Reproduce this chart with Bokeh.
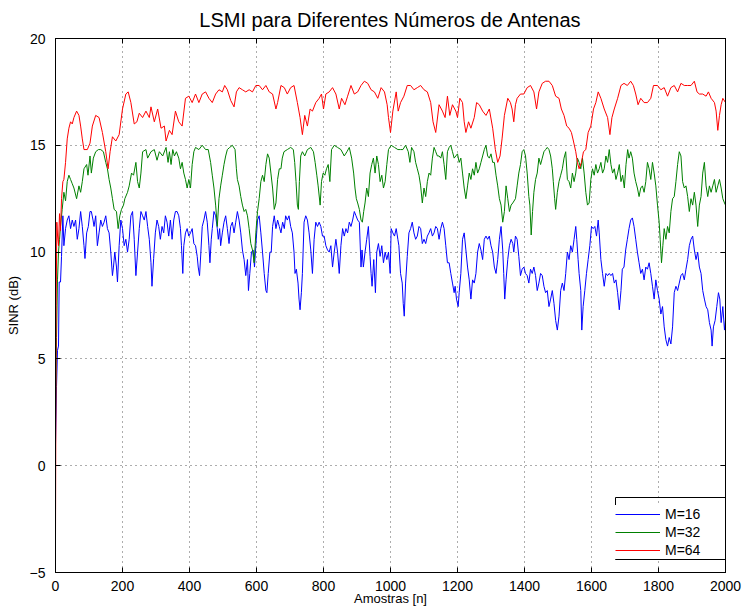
from bokeh.plotting import figure
from bokeh.models import Range1d, SingleIntervalTicker, LinearAxis, Legend, LegendItem, BoxAnnotation
from bokeh.embed import file_html
from bokeh.resources import INLINE

# ---------------- data ----------------
# M = 64 (red)
m64_n = [0, 2, 4, 6, 9, 12, 15, 18, 22, 25,
         30, 35, 40, 45, 50, 55, 63, 70, 75, 80,
         85, 95, 103, 110, 120, 130, 140, 150, 157, 163,
         170, 180, 190, 200, 210, 217, 225, 235, 243, 250,
         260, 270, 280, 285, 295, 305, 315, 325, 330, 340,
         348, 358, 368, 378, 388, 398, 408, 418, 428, 438,
         448, 458, 468, 478, 488, 498, 505, 513, 523, 533,
         540, 548, 558, 568, 578, 588, 598, 608, 618, 628,
         638, 648, 658, 663, 673, 683, 692, 702, 712, 722,
         730, 737, 744, 752, 760, 767, 777, 787, 794, 800,
         807, 817, 827, 837, 847, 854, 864, 872, 882, 892,
         902, 912, 922, 932, 942, 952, 962, 972, 982, 990,
         994, 1000, 1007, 1017, 1023, 1030, 1040, 1050, 1060, 1070,
         1080, 1090, 1100, 1110, 1120, 1127, 1135, 1145, 1155, 1163,
         1170, 1177, 1185, 1195, 1200, 1207, 1215, 1220, 1225, 1233,
         1240, 1250, 1257, 1265, 1275, 1285, 1295, 1305, 1313, 1320,
         1327, 1333, 1340, 1350, 1358, 1363, 1368, 1373, 1378, 1388,
         1398, 1408, 1418, 1428, 1436, 1443, 1453, 1463, 1473, 1483,
         1493, 1503, 1510, 1518, 1526, 1533, 1540, 1546, 1553, 1558,
         1563, 1570, 1576, 1583, 1590, 1598, 1606, 1613, 1620, 1628,
         1638, 1648, 1655, 1661, 1668, 1678, 1688, 1697, 1707, 1717,
         1725, 1732, 1739, 1747, 1757, 1767, 1777, 1785, 1797, 1807,
         1817, 1827, 1837, 1847, 1857, 1867, 1877, 1887, 1897, 1907,
         1915, 1922, 1932, 1942, 1949, 1957, 1967, 1972, 1977, 1982,
         1987, 1992, 2000]
m64_db = [-3.4, 7.5, 11.4, 10.8, 10.3, 11.8, 11.0, 12.5, 13.3, 13.4,
          14.2, 15.3, 15.8, 16.1, 16.0, 16.3, 16.6, 16.4, 15.9, 15.3,
          14.8, 14.8, 15.1, 15.9, 16.4, 16.3, 15.6, 14.7, 13.9, 14.7,
          15.4, 15.2, 15.5, 16.7, 17.4, 17.5, 17.0, 16.0, 16.1, 16.5,
          16.3, 16.6, 16.3, 16.8, 16.1, 16.7, 15.8, 15.9, 15.2, 15.7,
          15.5, 16.6, 16.1, 15.9, 17.2, 17.3, 17.0, 17.4, 17.0, 17.4,
          17.5, 17.2, 17.0, 17.4, 17.6, 17.5, 17.8, 17.6, 17.1, 16.8,
          17.5, 17.7, 17.6, 17.5, 17.6, 17.5, 17.8, 17.8, 17.6, 17.8,
          17.5, 17.4, 16.7, 17.0, 17.8, 17.7, 17.4, 17.7, 17.8, 17.0,
          16.3, 15.5, 16.4, 15.9, 16.7, 16.6, 17.0, 17.2, 17.4, 16.7,
          17.4, 17.5, 17.7, 17.4, 16.7, 17.2, 16.9, 17.3, 17.8, 17.4,
          17.5, 17.8, 18.0, 17.9, 17.6, 17.5, 17.2, 17.7, 17.5, 16.9,
          16.3, 15.6, 16.6, 17.5, 16.6, 17.0, 17.3, 17.8, 17.8, 17.6,
          17.7, 17.8, 17.6, 17.5, 17.0, 16.1, 15.6, 16.9, 16.6, 16.3,
          17.3, 16.4, 16.9, 16.6, 16.3, 17.2, 17.0, 16.1, 15.6, 16.1,
          15.8, 16.3, 17.0, 16.9, 16.6, 16.4, 16.7, 15.8, 14.8, 14.2,
          14.5, 15.3, 16.4, 17.2, 17.0, 16.7, 16.1, 16.9, 17.2, 17.4,
          17.4, 17.7, 17.8, 17.5, 16.7, 17.5, 17.9, 18.0, 18.0, 17.8,
          17.3, 17.2, 16.7, 16.4, 15.9, 15.8, 15.6, 15.2, 14.7, 14.2,
          13.9, 14.2, 14.7, 14.8, 15.6, 15.9, 16.7, 17.0, 17.5, 17.2,
          16.7, 16.3, 15.5, 16.3, 16.7, 17.2, 17.8, 17.9, 17.8, 18.0,
          17.8, 17.4, 16.9, 17.2, 17.0, 17.0, 17.2, 17.8, 17.8, 17.6,
          17.7, 17.3, 17.7, 17.8, 17.5, 17.9, 17.8, 17.8, 17.8, 18.0,
          17.5, 17.4, 17.4, 17.3, 17.5, 17.2, 17.0, 16.6, 15.7, 16.4,
          16.9, 17.2, 17.0]

# M = 32 (green)
m32_n = [0, 3, 6, 9, 12, 15, 20, 25, 30, 35,
         40, 45, 50, 55, 63, 70, 75, 80, 85, 93,
         97, 103, 107, 113, 120, 128, 135, 143, 150, 155,
         160, 165, 170, 175, 182, 187, 192, 197, 203, 207,
         215, 220, 227, 233, 240, 245, 250, 255, 260, 270,
         275, 285, 295, 303, 310, 320, 330, 336, 340, 345,
         350, 355, 361, 368, 373, 378, 383, 388, 393, 398,
         403, 408, 413, 418, 428, 438, 448, 456, 463, 468,
         473, 478, 483, 488, 493, 498, 503, 508, 513, 520,
         528, 536, 540, 543, 548, 553, 558, 563, 568, 573,
         578, 583, 588, 593, 598, 603, 608, 613, 618, 623,
         628, 633, 638, 643, 648, 653, 658, 663, 668, 673,
         677, 682, 692, 702, 710, 714, 718, 722, 725, 728,
         732, 737, 744, 752, 762, 770, 775, 780, 784, 790,
         794, 799, 804, 809, 814, 819, 824, 832, 842, 852,
         862, 870, 877, 884, 890, 894, 898, 902, 907, 912,
         916, 920, 924, 929, 934, 939, 944, 949, 954, 959,
         964, 969, 974, 979, 984, 989, 994, 1002, 1012, 1022,
         1030, 1037, 1045, 1053, 1058, 1063, 1070, 1075, 1080, 1085,
         1090, 1095, 1100, 1105, 1110, 1115, 1120, 1125, 1130, 1135,
         1140, 1145, 1150, 1155, 1160, 1165, 1170, 1175, 1180, 1185,
         1190, 1195, 1200, 1205, 1210, 1215, 1220, 1225, 1230, 1235,
         1240, 1245, 1250, 1255, 1260, 1265, 1270, 1275, 1280, 1285,
         1290, 1295, 1300, 1305, 1310, 1315, 1320, 1325, 1330, 1335,
         1340, 1345, 1350, 1355, 1360, 1365, 1373, 1378, 1383, 1388,
         1393, 1398, 1403, 1408, 1413, 1416, 1420, 1424, 1428, 1433,
         1438, 1443, 1448, 1453, 1458, 1463, 1468, 1473, 1478, 1483,
         1486, 1490, 1493, 1498, 1503, 1508, 1513, 1518, 1523, 1528,
         1533, 1538, 1543, 1548, 1553, 1558, 1563, 1568, 1573, 1578,
         1583, 1588, 1593, 1598, 1603, 1608, 1613, 1618, 1623, 1628,
         1633, 1638, 1643, 1648, 1653, 1658, 1663, 1668, 1673, 1678,
         1683, 1688, 1693, 1698, 1703, 1708, 1712, 1717, 1722, 1727,
         1732, 1737, 1742, 1747, 1752, 1757, 1762, 1767, 1772, 1777,
         1782, 1787, 1792, 1797, 1802, 1805, 1809, 1813, 1817, 1822,
         1827, 1832, 1837, 1842, 1847, 1852, 1857, 1862, 1867, 1872,
         1877, 1882, 1887, 1892, 1897, 1902, 1907, 1912, 1917, 1922,
         1927, 1932, 1937, 1942, 1947, 1952, 1957, 1962, 1967, 1972,
         1977, 1982, 1987, 1992, 1997, 2000]
m32_db = [2.0, 6.0, 8.7, 10.0, 10.6, 11.2, 12.0, 12.8, 12.4, 13.3,
          13.6, 13.4, 13.2, 13.0, 12.5, 13.1, 12.8, 13.3, 13.9, 14.1,
          13.6, 14.5, 13.7, 14.4, 14.7, 14.8, 14.8, 14.7, 14.2, 13.9,
          13.4, 13.0, 12.5, 12.0, 11.9, 11.1, 11.7, 12.0, 12.2, 12.5,
          12.8, 13.1, 13.7, 13.6, 14.2, 13.3, 13.0, 13.7, 14.7, 14.8,
          14.4, 14.7, 14.8, 14.3, 14.7, 14.5, 14.9, 14.2, 14.7, 14.1,
          14.8, 14.5, 14.7, 14.4, 13.9, 14.2, 13.7, 13.4, 13.0, 13.4,
          13.0, 14.1, 14.7, 14.9, 14.8, 15.0, 14.8, 14.8, 14.2, 13.6,
          13.0, 12.2, 11.2, 12.5, 13.1, 13.6, 14.1, 14.5, 14.8, 14.9,
          15.0, 14.8, 13.9, 13.4, 13.1, 12.6, 12.2, 11.9, 12.0, 11.7,
          11.1, 10.4, 10.1, 9.5, 10.9, 11.9, 12.5, 13.3, 13.6, 13.3,
          14.1, 14.6, 14.4, 13.7, 13.0, 12.0, 12.3, 13.4, 13.9, 13.9,
          14.4, 14.7, 14.8, 14.9, 14.8, 14.2, 13.3, 12.2, 12.0, 13.3,
          14.5, 14.7, 14.5, 14.8, 14.9, 14.7, 14.2, 13.6, 13.1, 12.2,
          13.3, 13.7, 13.6, 13.9, 14.1, 13.3, 14.8, 15.0, 14.9, 14.8,
          14.5, 14.7, 14.9, 14.4, 13.7, 13.0, 12.5, 12.3, 12.0, 11.5,
          11.4, 11.9, 12.3, 13.0, 12.6, 13.7, 14.1, 14.4, 13.7, 14.5,
          14.1, 13.3, 13.6, 13.0, 13.3, 14.1, 14.8, 15.0, 14.9, 14.8,
          14.8, 14.8, 15.0, 14.7, 14.2, 14.9, 14.7, 14.2, 13.9, 13.6,
          13.1, 12.3, 13.0, 12.6, 13.3, 13.7, 13.6, 14.4, 14.9, 14.7,
          14.5, 14.5, 14.4, 14.7, 14.1, 13.4, 14.7, 14.9, 15.0, 14.7,
          14.4, 14.5, 14.6, 14.2, 14.4, 13.7, 13.0, 12.5, 13.1, 13.7,
          13.4, 13.9, 13.6, 14.2, 13.7, 13.9, 14.2, 14.5, 14.8, 15.0,
          14.5, 14.4, 14.6, 14.2, 14.2, 13.6, 13.1, 12.5, 12.2, 11.4,
          11.9, 13.1, 12.5, 11.9, 12.2, 12.3, 12.5, 13.1, 13.7, 14.1,
          14.7, 14.8, 14.5, 13.7, 12.6, 12.2, 10.8, 11.9, 12.8, 13.4,
          13.7, 14.4, 14.1, 14.4, 14.7, 14.8, 14.9, 14.8, 14.5, 13.9,
          13.3, 12.5, 12.0, 12.8, 13.3, 13.6, 13.9, 14.4, 14.7, 13.4,
          13.3, 13.0, 13.7, 13.3, 13.7, 14.4, 14.2, 13.9, 14.4, 13.7,
          12.8, 12.2, 12.3, 13.4, 13.9, 13.6, 14.1, 13.7, 13.9, 14.2,
          13.7, 13.9, 14.5, 14.2, 14.8, 14.1, 13.7, 13.9, 13.4, 13.7,
          14.1, 13.3, 13.6, 13.0, 14.1, 14.8, 14.4, 14.7, 14.4, 13.7,
          13.3, 13.0, 12.6, 13.0, 13.1, 12.8, 13.3, 14.2, 13.9, 13.4,
          14.2, 13.7, 13.1, 12.2, 11.4, 10.6, 9.5, 10.3, 11.1, 10.6,
          11.2, 10.9, 11.9, 12.5, 12.6, 13.3, 14.1, 14.7, 14.5, 13.3,
          13.0, 13.1, 12.6, 11.9, 12.5, 12.2, 12.8, 12.2, 11.2, 12.2,
          12.6, 13.7, 14.2, 13.1, 12.6, 13.1, 12.8, 13.1, 13.4, 12.8,
          13.1, 13.4, 13.0, 12.5, 12.3, 12.2]

# M = 16 (blue)
m16_n = [0, 3, 6, 9, 11, 15, 18, 22, 25, 30,
         35, 40, 45, 50, 55, 60, 65, 70, 75, 80,
         85, 88, 93, 98, 103, 107, 112, 115, 120, 125,
         130, 135, 140, 145, 150, 155, 160, 165, 170, 173,
         177, 182, 185, 190, 195, 200, 205, 210, 215, 220,
         225, 230, 235, 240, 245, 250, 255, 260, 265, 270,
         275, 280, 285, 288, 293, 298, 303, 308, 313, 318,
         323, 328, 333, 338, 343, 348, 353, 358, 363, 368,
         373, 376, 380, 383, 388, 393, 398, 403, 408, 413,
         418, 423, 426, 430, 434, 438, 443, 448, 453, 458,
         461, 465, 468, 473, 478, 483, 486, 490, 493, 498,
         503, 508, 513, 518, 523, 528, 533, 538, 543, 548,
         553, 558, 563, 568, 573, 576, 580, 585, 590, 594,
         598, 603, 608, 613, 618, 623, 628, 631, 635, 640,
         644, 648, 653, 658, 663, 668, 673, 678, 683, 687,
         692, 697, 702, 707, 712, 715, 719, 724, 727, 730,
         734, 737, 742, 747, 752, 757, 762, 767, 772, 777,
         782, 787, 792, 797, 802, 807, 812, 817, 822, 827,
         832, 837, 842, 847, 852, 857, 862, 867, 872, 877,
         882, 887, 892, 897, 902, 907, 912, 915, 919, 924,
         929, 934, 939, 942, 945, 950, 955, 959, 964, 969,
         974, 979, 984, 989, 994, 999, 1002, 1007, 1012, 1017,
         1022, 1025, 1030, 1035, 1038, 1041, 1045, 1050, 1055, 1060,
         1065, 1070, 1075, 1080, 1085, 1090, 1095, 1100, 1105, 1110,
         1115, 1120, 1125, 1130, 1135, 1140, 1145, 1150, 1155, 1160,
         1165, 1170, 1175, 1180, 1185, 1190, 1193, 1197, 1202, 1205,
         1210, 1215, 1220, 1225, 1230, 1235, 1240, 1245, 1250, 1255,
         1260, 1265, 1270, 1275, 1280, 1285, 1290, 1295, 1300, 1305,
         1310, 1315, 1320, 1325, 1330, 1335, 1338, 1341, 1345, 1350,
         1355, 1360, 1365, 1368, 1373, 1378, 1383, 1388, 1393, 1398,
         1403, 1408, 1413, 1418, 1423, 1428, 1433, 1438, 1443, 1448,
         1453, 1458, 1463, 1468, 1473, 1478, 1483, 1488, 1493, 1498,
         1503, 1508, 1513, 1518, 1523, 1528, 1533, 1538, 1543, 1548,
         1553, 1556, 1560, 1563, 1568, 1571, 1575, 1580, 1585, 1590,
         1595, 1600, 1605, 1610, 1615, 1620, 1623, 1628, 1633, 1638,
         1643, 1648, 1653, 1658, 1663, 1668, 1673, 1678, 1683, 1688,
         1692, 1697, 1702, 1707, 1712, 1717, 1722, 1727, 1732, 1737,
         1742, 1747, 1752, 1757, 1762, 1767, 1772, 1777, 1782, 1787,
         1792, 1797, 1802, 1807, 1812, 1817, 1822, 1827, 1832, 1837,
         1842, 1847, 1852, 1857, 1862, 1867, 1872, 1877, 1882, 1887,
         1892, 1897, 1902, 1907, 1912, 1917, 1922, 1927, 1932, 1937,
         1942, 1947, 1952, 1957, 1960, 1964, 1969, 1974, 1979, 1983,
         1987, 1992, 1997, 2000]
m16_db = [1.0, 3.7, 5.4, 5.6, 8.6, 8.6, 9.8, 11.7, 10.3, 11.1,
          11.5, 11.7, 11.1, 11.5, 11.2, 11.5, 10.6, 11.1, 11.9, 11.2,
          10.3, 9.7, 10.9, 11.2, 11.9, 11.9, 11.5, 11.2, 11.7, 10.3,
          10.9, 11.5, 11.2, 11.4, 11.7, 11.1, 10.9, 10.0, 8.9, 9.3,
          10.0, 9.3, 8.6, 10.3, 11.5, 11.1, 10.3, 10.6, 10.0, 10.6,
          11.7, 11.9, 10.6, 8.9, 10.0, 11.1, 11.9, 11.7, 11.5, 11.9,
          11.2, 10.6, 9.5, 8.4, 9.7, 10.9, 11.5, 11.2, 10.6, 11.2,
          10.9, 11.7, 11.4, 10.75, 11.5, 10.6, 11.5, 11.9, 11.9, 11.7,
          11.1, 10.3, 9.0, 10.3, 10.9, 11.1, 10.75, 10.9, 11.1, 10.4,
          10.3, 9.8, 9.3, 8.9, 10.0, 11.2, 11.5, 11.9, 11.4, 10.3,
          9.5, 10.6, 11.1, 11.9, 11.7, 11.1, 10.6, 11.1, 10.3, 10.9,
          11.4, 11.7, 11.1, 10.4, 11.2, 11.4, 10.9, 11.4, 11.9, 11.5,
          10.9, 10.1, 9.65, 8.9, 9.65, 8.2, 9.0, 10.0, 10.1, 9.3,
          10.3, 11.5, 11.7, 10.9, 10.0, 9.0, 8.2, 8.1, 9.0, 10.0,
          10.0, 11.2, 11.7, 11.1, 11.5, 11.2, 10.9, 11.4, 11.1, 11.7,
          11.5, 11.7, 11.2, 10.9, 10.0, 9.0, 9.2, 8.55, 7.8, 7.3,
          8.1, 9.0, 11.4, 11.7, 11.5, 10.9, 10.1, 9.0, 10.6, 11.4,
          11.2, 11.4, 11.2, 10.75, 10.75, 10.3, 10.1, 10.0, 10.3, 9.3,
          10.0, 10.6, 10.0, 9.0, 10.3, 11.1, 10.75, 11.1, 10.9, 11.4,
          11.2, 11.5, 11.9, 11.7, 11.5, 11.4, 9.3, 10.1, 9.3, 10.0,
          10.6, 11.2, 9.8, 9.0, 8.4, 9.65, 8.1, 10.0, 10.4, 9.8,
          10.3, 9.5, 10.0, 9.65, 10.0, 9.0, 11.1, 10.9, 10.75, 11.1,
          10.6, 10.3, 9.0, 8.55, 7.6, 7.0, 8.55, 9.8, 10.9, 11.1,
          11.4, 10.9, 10.6, 10.75, 11.2, 11.1, 10.4, 10.6, 10.4, 10.75,
          10.9, 11.1, 10.75, 10.9, 11.2, 11.1, 10.6, 11.1, 11.4, 11.1,
          10.3, 9.5, 9.5, 9.0, 8.55, 8.1, 8.4, 7.8, 7.45, 8.1,
          9.0, 10.6, 10.9, 10.1, 9.3, 8.7, 7.8, 8.7, 8.55, 9.0,
          10.0, 10.4, 10.1, 9.65, 10.6, 10.75, 10.6, 10.75, 10.3, 10.0,
          9.3, 9.0, 9.65, 10.6, 11.2, 10.1, 9.0, 7.8, 8.7, 9.65,
          10.3, 10.6, 10.4, 10.0, 10.75, 10.6, 9.8, 8.9, 9.2, 9.3,
          9.0, 8.9, 8.55, 9.2, 9.0, 9.3, 8.9, 8.2, 8.55, 9.0,
          8.9, 8.4, 8.1, 8.2, 7.45, 7.8, 8.2, 7.6, 6.8, 6.35,
          7.0, 8.2, 8.55, 8.2, 9.0, 10.0, 9.65, 10.3, 10.0, 10.6,
          11.2, 10.6, 9.65, 9.0, 8.2, 6.35, 7.45, 8.2, 9.0, 9.65,
          10.3, 11.2, 11.1, 11.2, 10.75, 11.5, 10.9, 9.65, 9.0, 8.4,
          9.0, 8.9, 9.0, 8.9, 9.0, 8.55, 8.7, 8.1, 7.3, 8.2,
          9.2, 9.3, 10.1, 10.6, 11.1, 11.5, 11.6, 11.2, 10.6, 10.0,
          9.5, 9.0, 9.2, 8.7, 9.3, 9.2, 9.5, 9.0, 8.4, 7.8,
          8.7, 8.2, 7.8, 7.1, 7.45, 6.5, 5.9, 5.6, 6.0, 5.7,
          6.5, 8.1, 8.4, 8.2, 8.55, 8.9, 9.0, 8.7, 9.2, 9.65,
          10.3, 10.6, 10.75, 10.1, 9.65, 10.0, 9.3, 9.0, 8.2, 7.8,
          7.45, 7.3, 6.7, 6.35, 5.6, 6.5, 6.8, 7.45, 8.1, 7.8,
          6.7, 7.45, 6.35, 6.8]

series_labels = ["M=16", "M=32", "M=64"]
series_colors = ["#0000ff", "#008000", "#ff0000"]
x_ticks_step = 200
y_ticks_step = 5

FONT = "Liberation Sans"

p = figure(frame_width=670, frame_height=534,
           min_border_left=55, min_border_right=17,
           min_border_top=38, min_border_bottom=36,
           x_range=Range1d(0, 2000), y_range=Range1d(-5, 20),
           output_backend="svg", toolbar_location=None,
           title="LSMI para Diferentes Números de Antenas")

p.background_fill_color = "white"
p.border_fill_color = "white"
p.outline_line_color = "black"
p.outline_line_width = 1

p.title.align = "center"
p.title.text_font = FONT
p.title.text_font_size = "20px"
p.title.text_font_style = "normal"
p.title.text_color = "black"
p.title.standoff = 7

xt = SingleIntervalTicker(interval=x_ticks_step)
yt = SingleIntervalTicker(interval=y_ticks_step)
p.xaxis.ticker = xt
p.yaxis.ticker = yt
p.xgrid.ticker = xt
p.ygrid.ticker = yt

for ax in (p.xaxis[0], p.yaxis[0]):
    ax.major_tick_in = 5
    ax.major_tick_out = 0
    ax.minor_tick_line_color = None
    ax.axis_line_color = "black"
    ax.major_tick_line_color = "black"
    ax.major_label_text_font = FONT
    ax.major_label_text_font_size = "14px"
    ax.major_label_text_color = "black"
    ax.axis_label_text_font = FONT
    ax.axis_label_text_font_size = "13px"
    ax.axis_label_text_font_style = "normal"
    ax.axis_label_text_color = "black"

p.xaxis.axis_label = "Amostras [n]"
p.yaxis.axis_label = "SINR (dB)"
p.xaxis.major_label_standoff = 4
p.xaxis.axis_label_standoff = -3
p.yaxis.major_label_standoff = 6
p.yaxis.axis_label_standoff = 6
p.yaxis.major_label_overrides = {-5: "\u22125"}

# box ticks on top and right
top = LinearAxis(ticker=xt, major_tick_in=5, major_tick_out=0,
                 minor_tick_line_color=None, major_label_text_font_size="0px",
                 major_label_standoff=0, axis_line_color="black")
right = LinearAxis(ticker=yt, major_tick_in=5, major_tick_out=0,
                   minor_tick_line_color=None, major_label_text_font_size="0px",
                   major_label_standoff=0, axis_line_color="black")
p.add_layout(top, "above")
p.add_layout(right, "right")

for g in (p.xgrid[0], p.ygrid[0]):
    g.grid_line_color = "#333333"
    g.grid_line_alpha = 0.8
    g.grid_line_dash = "1 4"
    g.grid_line_width = 1

r16 = p.line(m16_n, m16_db, line_color=series_colors[0], line_width=1)
r32 = p.line(m32_n, m32_db, line_color=series_colors[1], line_width=1)
r64 = p.line(m64_n, m64_db, line_color=series_colors[2], line_width=1)
rends = [r16, r32, r64]

# legend: white background, no border (renders cleanly in SVG) ...
lg = Legend(items=[LegendItem(label=series_labels[i], renderers=[rends[i]])
                   for i in range(3)])
lg.location = (560, 13)
lg.border_line_color = None
lg.background_fill_color = "white"
lg.background_fill_alpha = 1
lg.label_text_font = FONT
lg.label_text_font_size = "14px"
lg.label_text_color = "black"
lg.glyph_width = 45
lg.glyph_height = 18
lg.label_height = 18
lg.label_width = 52
lg.label_standoff = 5
lg.spacing = 0
lg.padding = 4
lg.margin = 0
p.add_layout(lg)

# ... and its black frame drawn on top (overlay level) as a box in screen units
frame_box = BoxAnnotation(left=560, right=670, bottom=13, top=75,
                          left_units="screen", right_units="screen",
                          top_units="screen", bottom_units="screen",
                          fill_alpha=0, line_color="black", line_width=1,
                          line_alpha=1, level="overlay")
p.add_layout(frame_box)

open("out.html", "w").write(file_html(p, INLINE))
